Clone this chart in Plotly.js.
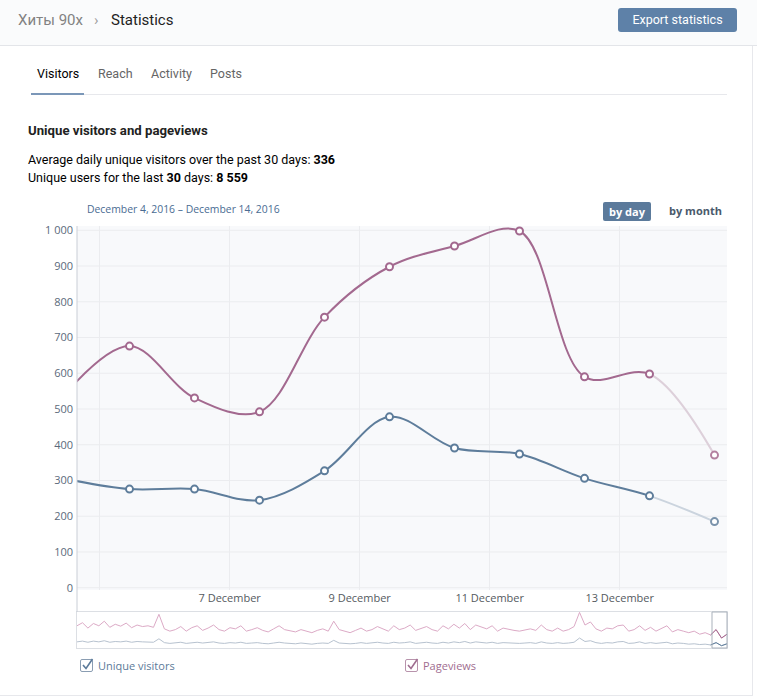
<!DOCTYPE html>
<html>
<head>
<meta charset="utf-8">
<script src="https://cdn.plot.ly/plotly-3.0.1.min.js"></script>
<style>
  html, body { margin:0; padding:0; background:#fff; }
  body { width:757px; height:700px; position:relative; overflow:hidden; font-family: Roboto, "Open Sans", sans-serif; }
  .abs { position:absolute; white-space:nowrap; }
  #header { position:absolute; left:0; top:0; width:757px; height:45px; background:#fafbfc; border-bottom:1px solid #e3e5e9; }
  #chart { position:absolute; left:0; top:0; width:757px; height:700px; }
  .cb { position:absolute; width:13px; height:13px; box-sizing:border-box; border-radius:2px; background:#fff; }
</style>
</head>
<body>
<div id="header"></div>
<div class="abs" style="left:18px; top:11px; font-size:15px; color:#828282;">Хиты 90х</div>
<div class="abs" style="left:94px; top:11px; font-size:15px; color:#a0a0a0;">&#x203A;</div>
<div class="abs" style="left:111px; top:11px; font-size:15px; color:#222;">Statistics</div>
<div class="abs" style="left:618px; top:8px; width:119px; height:24px; line-height:24px; text-align:center; background:#5e81a8; color:#fff; font-size:12.5px; border-radius:3px;">Export statistics</div>

<div class="abs" style="left:37px; top:66px; font-size:12.5px; color:#000;">Visitors</div>
<div class="abs" style="left:98px; top:66px; font-size:12.5px; color:#656565;">Reach</div>
<div class="abs" style="left:151px; top:66px; font-size:12.5px; color:#656565;">Activity</div>
<div class="abs" style="left:210px; top:66px; font-size:12.5px; color:#656565;">Posts</div>
<div class="abs" style="left:31px; top:94px; width:696px; height:1px; background:#e7e8ec;"></div>
<div class="abs" style="left:31px; top:93px; width:53px; height:2px; background:#7b97b8;"></div>

<div class="abs" style="left:28px; top:123px; font-size:13.2px; font-weight:bold; color:#222;">Unique visitors and pageviews</div>
<div class="abs" style="left:28px; top:152px; font-size:12.5px; color:#000;">Average daily unique visitors over the past 30 days: <b>336</b></div>
<div class="abs" style="left:28px; top:170px; font-size:12.5px; color:#000;">Unique users for the last <b>30</b> days: <b>8 559</b></div>

<div class="abs" style="left:87px; top:202px; font-family:'Open Sans'; font-size:10.4px; color:#4a6c93;">December 4, 2016 – December 14, 2016</div>
<div class="abs" style="left:603px; top:202px; width:48px; height:19px; line-height:19px; text-align:center; background:#5b7a9b; color:#fff; font-family:'Open Sans'; font-weight:bold; font-size:11px; border-radius:2px;">by day</div>
<div class="abs" style="left:669px; top:203px; font-family:'Open Sans'; font-weight:bold; font-size:11px; color:#4a5a6c;">by month</div>

<div id="chart"></div>

<div class="cb" style="left:80px; top:659px; border:1px solid #8a9db2;"></div>
<svg class="abs" style="left:80px; top:656px;" width="16" height="16"><path d="M3 9 L6 12.5 L12.5 3" fill="none" stroke="#5b7a9a" stroke-width="1.6"/></svg>
<div class="abs" style="left:98px; top:658px; font-family:'Open Sans'; font-size:11px; color:#5d7a99;">Unique visitors</div>
<div class="cb" style="left:405px; top:659px; border:1px solid #b893ac;"></div>
<svg class="abs" style="left:405px; top:656px;" width="16" height="16"><path d="M3 9 L6 12.5 L12.5 3" fill="none" stroke="#9f6d90" stroke-width="1.6"/></svg>
<div class="abs" style="left:423px; top:658px; font-family:'Open Sans'; font-size:11px; color:#9f6d90;">Pageviews</div>

<div class="abs" style="left:752px; top:46px; width:1px; height:649px; background:#e7e8ec;"></div>
<div class="abs" style="left:0px; top:695px; width:753px; height:1px; background:#e7e8ec;"></div>

<script>
// ---- data ----
const days = ['2016-12-04 11:00','2016-12-05 11:00','2016-12-06 11:00','2016-12-07 11:00','2016-12-08 11:00',
              '2016-12-09 11:00','2016-12-10 11:00','2016-12-11 11:00','2016-12-12 11:00','2016-12-13 11:00','2016-12-14 11:00'];
const visitors  = [305, 276, 276, 245, 327, 478, 391, 374, 306, 257, 185];
const pageviews = [540, 676, 531, 492, 757, 898, 956, 998, 590, 598, 371];

const xTickVals = ['2016-12-05','2016-12-07','2016-12-09','2016-12-11','2016-12-13'];
const xTickText = ['', '7 December', '9 December', '11 December', '13 December'];
const yTickVals = [0,100,200,300,400,500,600,700,800,900,1000];
const yTickText = ['0','100','200','300','400','500','600','700','800','900','1 000'];

// navigator (long history overview)
const navPageviews = [
  700,780,640,760,700,820,660,740,690,770,
  650,720,680,700,660,1000,620,560,600,680,
  560,650,700,580,640,720,600,560,650,620,
  700,560,600,650,580,540,620,700,600,560,
  540,600,560,520,580,620,560,820,600,560,
  520,580,640,560,600,680,620,560,700,600,
  640,720,580,620,680,600,560,700,620,740,
  640,760,600,720,680,620,700,560,640,600,
  580,560,600,620,580,720,600,560,640,560,
  600,680,1050,720,800,620,560,640,620,700,
  720,560,600,700,580,660,560,620,700,540,
  600,560,520,560,480,520,460,600,380,480
];
const navVisitors = [
  280,300,270,300,280,310,270,290,280,300,
  270,290,280,280,270,360,260,240,250,270,
  240,260,270,250,260,280,250,240,260,250,
  270,240,250,260,240,230,250,270,250,240,
  230,250,240,220,240,250,240,320,250,240,
  230,240,260,240,250,270,250,240,270,250,
  260,280,240,250,270,250,240,270,250,280,
  260,290,250,280,270,250,270,240,260,250,
  240,240,250,260,240,280,250,240,260,240,
  250,270,380,290,310,260,240,260,250,280,
  290,240,250,280,240,260,240,250,270,230,
  250,240,220,230,210,220,200,260,180,230
];

const PINK = '#a3698f', PINK_LIGHT = '#ddd0da', PINK_MK = '#b3809f';
const BLUE = '#5e7d9b', BLUE_LIGHT = '#cbd4de', BLUE_MK = '#7a93ab';

const n = days.length;
const navIdx = navPageviews.map((_, i) => i);
const lastK = 3;

// x range of the main chart; the last (incomplete) day is drawn in light colour
const xStart = '2016-12-04 15:37', xEnd = '2016-12-14 15:37';
const splitAt = days[n - 2];
const ms = (s) => Date.parse(s.replace(' ', 'T') + ':00Z');
const splitFrac = (ms(splitAt) - ms(xStart)) / (ms(xEnd) - ms(xStart));

const lineTrace = (y, color, xa) => ({x: days, y: y, xaxis: xa, yaxis: 'y', mode: 'lines',
  line: {color: color, width: 2, shape: 'spline'}, hoverinfo: 'skip'});
const markerTrace = (y, colors) => ({x: days.slice(1), y: y.slice(1), xaxis: 'x5', yaxis: 'y', mode: 'markers',
  cliponaxis: false, marker: {symbol: 'circle', size: 7, color: '#fff', line: {color: colors, width: 2}}});

const blueMk = days.slice(1).map((_, i) => i === n - 2 ? BLUE_MK : BLUE);
const pinkMk = days.slice(1).map((_, i) => i === n - 2 ? PINK_MK : PINK);

const traces = [
  // carrier for the main date axis (invisible)
  {x: days, y: visitors, xaxis: 'x', yaxis: 'y', mode: 'lines', line: {color: 'rgba(0,0,0,0)', width: 0}, hoverinfo: 'skip'},
  // navigator
  {x: navIdx, y: navPageviews, xaxis:'x2', yaxis:'y2', mode:'lines', line:{color:'#dcaac6', width:1}, hoverinfo:'skip'},
  {x: navIdx, y: navVisitors, xaxis:'x2', yaxis:'y2', mode:'lines', line:{color:'#b7c2cf', width:1}, hoverinfo:'skip'},
  {x: navIdx.slice(-lastK-1), y: navPageviews.slice(-lastK-1), xaxis:'x2', yaxis:'y2', mode:'lines', line:{color:'#a3698f', width:1}, hoverinfo:'skip'},
  {x: navIdx.slice(-lastK-1), y: navVisitors.slice(-lastK-1), xaxis:'x2', yaxis:'y2', mode:'lines', line:{color:'#5e7d9b', width:1}, hoverinfo:'skip'},
  // light part (incomplete last day) - clipped to right region
  lineTrace(visitors, BLUE_LIGHT, 'x3'),
  lineTrace(pageviews, PINK_LIGHT, 'x3'),
  // dark part - clipped to left region
  lineTrace(visitors, BLUE, 'x4'),
  lineTrace(pageviews, PINK, 'x4'),
  // point markers on top
  markerTrace(visitors, blueMk),
  markerTrace(pageviews, pinkMk)
];

// pixel geometry helpers (layout only)
const H = 700, T = 226, B = 52;           // paper spans y=226..648
const paperH = H - T - B;
const py = (pix) => (H - B - pix) / paperH; // page pixel -> paper fraction

const hiddenX = {showgrid: false, zeroline: false, showticklabels: false, ticks: '', showline: false, fixedrange: true, type: 'date'};

const gridShapes = yTickVals.map(v => ({type: 'line', xref: 'paper', yref: 'y', x0: 0, x1: 1, y0: v, y1: v,
  line: {color: '#ebecef', width: 1}, layer: 'below'}));

const layout = {
  width: 757, height: 700,
  margin: {l: 77, r: 30, t: T, b: B, pad: 0},
  paper_bgcolor: 'rgba(0,0,0,0)',
  plot_bgcolor: 'rgba(0,0,0,0)',
  showlegend: false,
  hovermode: false,
  font: {family: 'Open Sans', size: 11, color: '#5b6a7b'},
  xaxis: {
    type: 'date', range: [xStart, xEnd],
    domain: [0, 1], anchor: 'y',
    tickmode: 'array', tickvals: xTickVals, ticktext: xTickText,
    showgrid: true, gridcolor: '#ebecef', gridwidth: 1,
    zeroline: false, showline: false, ticks: '',
    tickfont: {family: 'Open Sans', size: 11, color: '#555a60'},
    fixedrange: true
  },
  xaxis3: Object.assign({}, hiddenX, {range: [splitAt, xEnd], domain: [splitFrac, 1], anchor: 'y'}),
  xaxis4: Object.assign({}, hiddenX, {range: [xStart, splitAt], domain: [0, splitFrac], anchor: 'y'}),
  xaxis5: Object.assign({}, hiddenX, {range: [xStart, xEnd], domain: [0, 1], anchor: 'y'}),
  yaxis: {
    range: [-6.4, 1012], domain: [py(590), 1], anchor: 'x',
    tickmode: 'array', tickvals: yTickVals, ticktext: yTickText,
    showgrid: false, zeroline: false, showline: false, ticks: '',
    ticklabelstandoff: 3,
    tickfont: {family: 'Open Sans', size: 11, color: '#5b6a7b'},
    fixedrange: true
  },
  xaxis2: {
    range: [0, navPageviews.length - 1], anchor: 'y2', domain: [0, 1],
    showgrid: false, zeroline: false, showticklabels: false, ticks: '',
    showline: true, mirror: true, linecolor: '#dcdfe4', linewidth: 1, fixedrange: true
  },
  yaxis2: {
    range: [120, 1060], anchor: 'x2', domain: [0, py(612)],
    showgrid: false, zeroline: false, showticklabels: false, ticks: '',
    showline: true, mirror: true, linecolor: '#dcdfe4', linewidth: 1, fixedrange: true
  },
  shapes: [
    // main plot background
    {type: 'rect', xref: 'paper', yref: 'paper', x0: 0, x1: 1, y0: py(590), y1: 1,
     fillcolor: '#f8f9fb', line: {width: 0}, layer: 'below'},
    ...gridShapes,
    // left axis line extending to navigator
    {type: 'line', xref: 'paper', yref: 'paper', x0: 0, x1: 0, y0: py(612), y1: 1,
     line: {color: '#c9ced6', width: 1}},
    // navigator selected window
    {type: 'rect', xref: 'paper', yref: 'paper', x0: (712 - 77) / 650, x1: 1, y0: 0, y1: py(612),
     fillcolor: 'rgba(0,0,0,0)', line: {color: '#a9b1bb', width: 1}}
  ]
};

Plotly.newPlot('chart', traces, layout, {displayModeBar: false, staticPlot: true});
</script>
</body>
</html>
